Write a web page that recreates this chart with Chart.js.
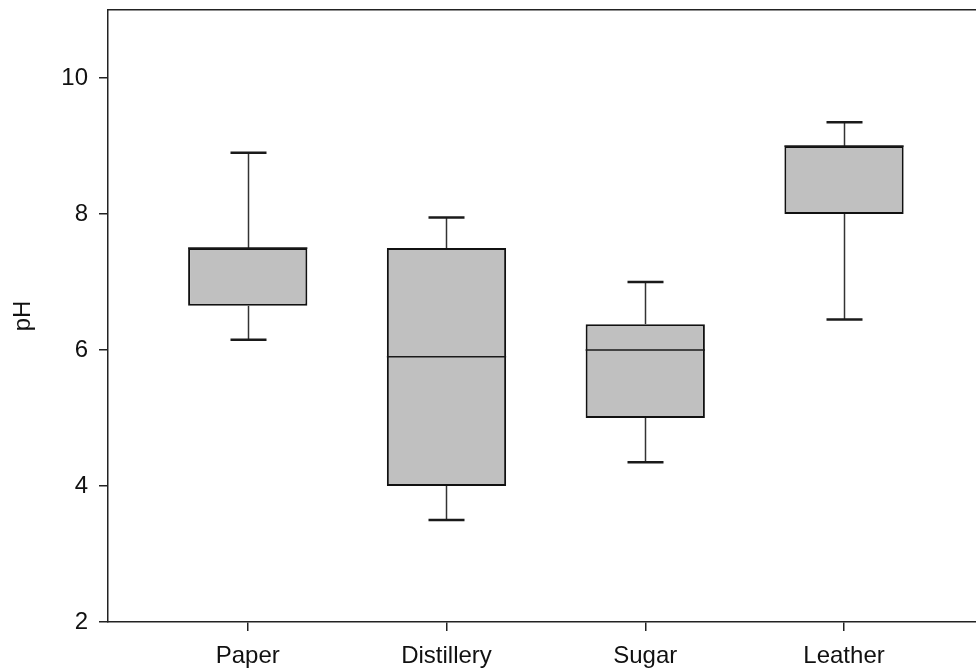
<!DOCTYPE html>
<html>
<head>
<meta charset="utf-8">
<script src="https://cdn.jsdelivr.net/npm/chart.js@4"></script>
<style>
  html, body { margin: 0; padding: 0; background: #ffffff; }
  #wrap { width: 976px; height: 672px; position: relative; overflow: hidden; }
</style>
</head>
<body>
<div id="wrap"><canvas id="c" width="976" height="672"></canvas></div>
<script>
// ---- data ----
const categories   = ['Paper', 'Distillery', 'Sugar', 'Leather'];
const lowerWhisker = [6.15, 3.50, 4.35, 6.45];
const q1           = [6.65, 4.00, 5.00, 8.00];
const median       = [7.50, 5.90, 6.00, 9.00];
const q3           = [7.50, 7.50, 6.38, 9.00];
const upperWhisker = [8.90, 7.95, 7.00, 9.35];
const yTickValues  = [2, 4, 6, 8, 10];
const yTitle = 'pH';

// ---- styling ----
const FONT = "'Liberation Sans', Arial, sans-serif";
const INK = '#222222';

const boxData = categories.map((c, i) => ({ x: i + 1, y: [q1[i], q3[i]] }));

const whiskerPlugin = {
  id: 'whiskers',
  afterDatasetsDraw(chart) {
    const { ctx } = chart;
    const xs = chart.scales.x, ys = chart.scales.y;
    const meta = chart.getDatasetMeta(0);
    const capHalf = 18;
    const line = (x1, y1, x2, y2) => { ctx.beginPath(); ctx.moveTo(x1, y1); ctx.lineTo(x2, y2); ctx.stroke(); };
    ctx.save();
    ctx.lineCap = 'butt';
    categories.forEach((c, i) => {
      const px = Math.round(xs.getPixelForValue(i + 1)) + 0.5;
      const yLo = ys.getPixelForValue(lowerWhisker[i]);
      const yQ1 = ys.getPixelForValue(q1[i]);
      const yMed = ys.getPixelForValue(median[i]);
      const yQ3 = ys.getPixelForValue(q3[i]);
      const yUp = ys.getPixelForValue(upperWhisker[i]);
      ctx.strokeStyle = '#333333';
      ctx.lineWidth = 1.5;
      line(px, yQ3, px, yUp);
      line(px, yQ1, px, yLo);
      ctx.strokeStyle = '#1a1a1a';
      ctx.lineWidth = 2.5;
      line(px - capHalf, yUp, px + capHalf, yUp);
      line(px - capHalf, yLo, px + capHalf, yLo);
      const bar = meta.data[i];
      ctx.lineWidth = 1.5;
      ctx.strokeStyle = '#1a1a1a';
      line(bar.x - bar.width / 2, yMed, bar.x + bar.width / 2, yMed);
    });
    ctx.restore();
  }
};

function fixSize(prop, val) {
  return function (scale) {
    scale[prop] = val;
    scale.paddingLeft = 0; scale.paddingRight = 0;
    scale.paddingTop = 0; scale.paddingBottom = 0;
  };
}

new Chart(document.getElementById('c'), {
  type: 'bar',
  data: {
    datasets: [{
      data: boxData,
      xAxisID: 'x',
      yAxisID: 'y',
      backgroundColor: '#c0c0c0',
      borderColor: '#111111',
      borderWidth: 2,
      borderSkipped: false,
      categoryPercentage: 1.0,
      barPercentage: 0.6
    }]
  },
  options: {
    responsive: false,
    animation: false,
    devicePixelRatio: 1,
    layout: { padding: 0 },
    plugins: { legend: { display: false }, tooltip: { enabled: false } },
    scales: {
      x: {
        type: 'linear',
        position: 'bottom',
        min: 0.297,
        max: 4.664,
        offset: false,
        afterBuildTicks: (s) => { s.ticks = categories.map((c, i) => ({ value: i + 1 })); },
        afterFit: fixSize('height', 50),
        grid: { display: true, drawOnChartArea: false, drawTicks: true, tickLength: 9, color: INK, lineWidth: 1.5, offset: false },
        border: { display: true, color: INK, width: 1.5 },
        ticks: {
          padding: 11,
          color: '#111111',
          font: { family: FONT, size: 24 },
          maxRotation: 0,
          autoSkip: false,
          callback: (v) => categories[Math.round(v) - 1] || ''
        }
      },
      xTop: {
        type: 'linear',
        axis: 'x',
        position: 'top',
        min: 0, max: 1,
        afterFit: fixSize('height', 10),
        grid: { display: false },
        ticks: { display: false },
        border: { display: true, color: INK, width: 1.5 }
      },
      y: {
        type: 'linear',
        position: 'left',
        min: 2,
        max: 11,
        afterBuildTicks: (s) => { s.ticks = yTickValues.map(v => ({ value: v })); },
        afterFit: fixSize('width', 108),
        grid: { display: true, drawOnChartArea: false, drawTicks: true, tickLength: 9, color: INK, lineWidth: 1.5 },
        border: { display: true, color: INK, width: 1.5 },
        ticks: {
          padding: 11,
          color: '#111111',
          font: { family: FONT, size: 24 },
          callback: (v) => String(v)
        },
        title: {
          display: true,
          text: yTitle,
          color: '#111111',
          font: { family: FONT, size: 24 },
          padding: { top: 9, bottom: 0 }
        }
      }
    }
  },
  plugins: [whiskerPlugin]
});
</script>
</body>
</html>
